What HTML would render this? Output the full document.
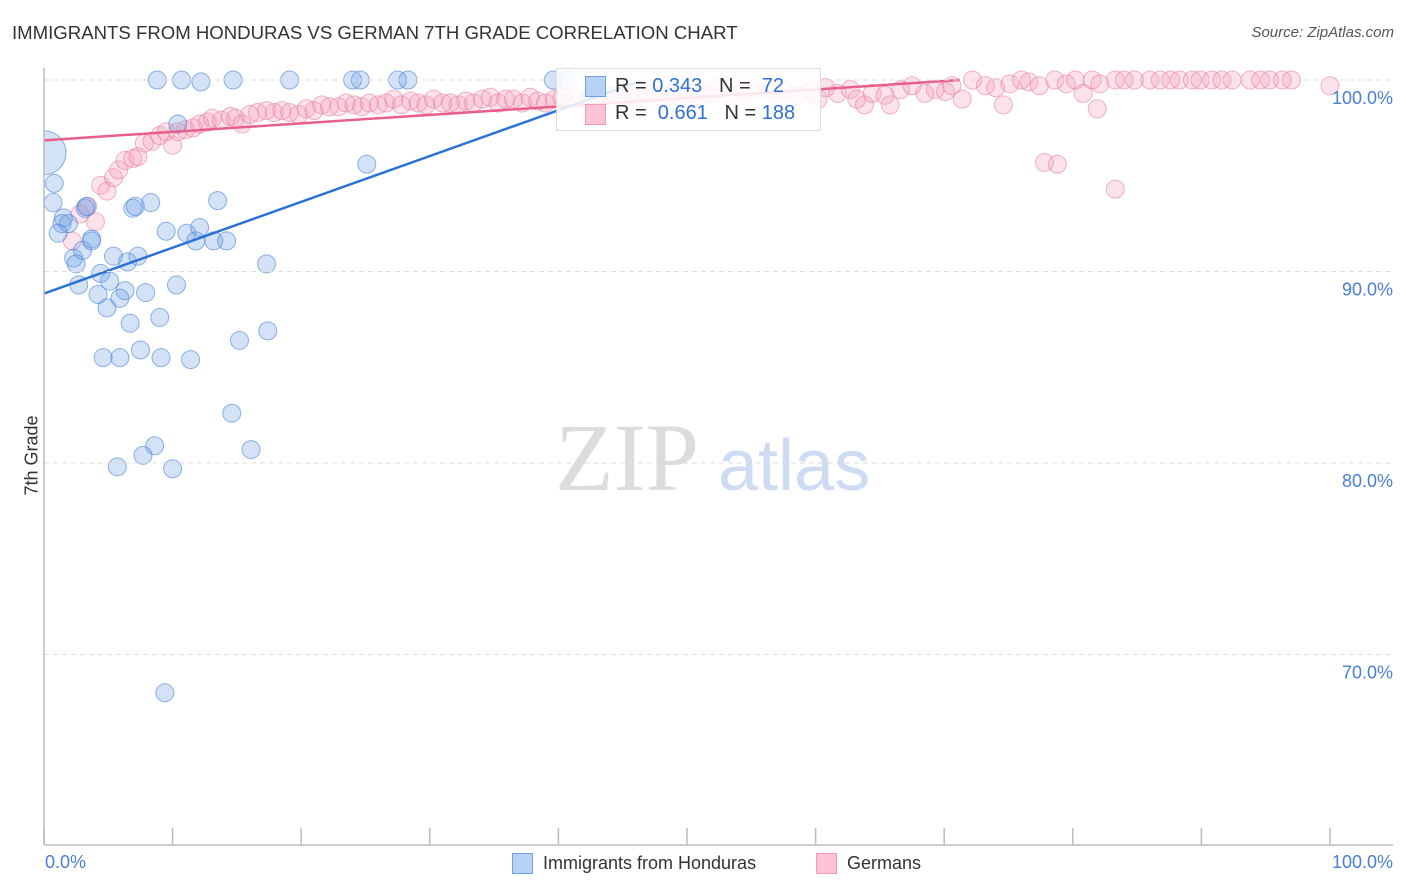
<!DOCTYPE html>
<html><head><meta charset="utf-8"><style>
body{margin:0;background:#fff;font-family:"Liberation Sans",sans-serif;}
#wrap{position:relative;width:1406px;height:892px;overflow:hidden;}
.t{position:absolute;white-space:nowrap;}
</style></head><body>
<div id="wrap">
<div class="t" style="left:12px;top:22px;font-size:18.6px;color:#333;">IMMIGRANTS FROM HONDURAS VS GERMAN 7TH GRADE CORRELATION CHART</div>
<div class="t" style="right:12px;top:24px;font-size:15px;color:#555;font-style:italic;">Source: ZipAtlas.com</div>
<svg id="plot" width="1406" height="892" style="position:absolute;left:0;top:0"><defs><clipPath id="pc"><rect x="44" y="0" width="1362" height="845"/></clipPath></defs><g id="marks" clip-path="url(#pc)"></g></svg>
</div>
<script>
const yTicks=[100,90,80,70];
const yTickLabels=["100.0%","90.0%","80.0%","70.0%"];
const blueX=[8.8,10.7,12.2,14.7,19.1,24,24.6,27.5,28.3,39.6,40.7,10.4,0,0.8,0.7,1.5,1.4,1.9,1.1,3.2,3.3,3.7,2.3,2.5,3.0,3.7,5.4,6.5,7.3,4.4,5.1,2.7,4.2,4.9,6.3,5.9,7.9,10.3,6.9,7.1,8.3,9.5,11.1,12.1,11.8,13.2,14.2,13.5,17.3,25.1,9.0,6.7,15.2,17.4,4.6,5.9,7.5,9.1,11.4,14.6,16.1,8.6,7.7,5.7,10.0,9.4];
const blueY=[100,100,99.9,100,100,100,100,100,100,100,100,97.7,96.2,94.6,93.6,92.8,92.5,92.5,92.0,93.3,93.4,91.7,90.7,90.4,91.1,91.6,90.8,90.5,90.8,89.9,89.5,89.3,88.8,88.1,89.0,88.6,88.9,89.3,93.3,93.4,93.6,92.1,92.0,92.3,91.6,91.6,91.6,93.7,90.4,95.6,87.6,87.3,86.4,86.9,85.5,85.5,85.9,85.5,85.4,82.6,80.7,80.9,80.4,79.8,79.7,68.0];
const pinkX=[3.4,4.0,2.2,2.8,4.4,4.9,5.4,5.8,6.3,6.9,7.3,7.8,8.4,9.0,9.5,10.0,10.4,11.0,11.6,12.1,12.7,13.1,13.8,14.5,14.9,15.4,16.0,16.6,17.3,17.9,18.5,19.1,19.8,20.4,21.0,21.6,22.2,22.9,23.5,24.1,24.7,25.3,26.0,26.6,27.2,27.8,28.5,29.1,29.7,30.3,31.0,31.6,32.2,32.8,33.4,34.1,34.7,35.3,35.9,36.5,37.2,37.8,38.4,39.0,39.7,40.3,41.3,42.5,43.2,44.0,44.8,45.6,46.3,47.3,47.9,48.7,49.5,50.2,51.0,51.9,52.6,53.3,54.4,55.4,56.5,57.4,58.6,59.6,60.2,60.8,61.7,62.7,63.2,63.8,64.4,65.4,65.8,66.6,67.5,68.5,69.3,70.1,70.6,71.4,72.2,73.2,74.0,74.6,75.1,76.0,76.6,77.4,78.6,79.5,80.2,80.8,81.5,82.1,81.9,83.3,84.0,84.8,86.0,86.8,87.6,88.3,89.3,89.9,90.8,91.6,92.4,93.8,94.6,95.3,96.3,97.0,100,77.8,78.8,83.3];
const pinkY=[93.4,92.6,91.6,93.0,94.5,94.2,94.9,95.3,95.8,95.9,96.0,96.7,96.8,97.1,97.3,96.6,97.3,97.4,97.5,97.7,97.8,98.0,97.9,98.1,98.0,97.7,98.2,98.3,98.4,98.3,98.4,98.3,98.2,98.5,98.4,98.7,98.6,98.6,98.8,98.7,98.6,98.8,98.7,98.8,99.0,98.7,98.9,98.8,98.7,99.0,98.8,98.8,98.7,98.9,98.8,99.0,99.1,98.8,99.0,99.0,98.8,99.1,98.9,98.8,99.0,99.1,99.0,99.1,98.7,99.2,99.0,99.2,99.0,99.3,99.0,99.2,99.1,99.3,99.1,99.3,99.6,99.2,99.4,99.5,99.4,99.5,99.2,99.4,99.0,99.6,99.3,99.5,99.0,98.7,99.3,99.2,98.7,99.5,99.7,99.3,99.5,99.4,99.7,99.0,100,99.7,99.6,98.7,99.8,100,99.9,99.7,100,99.8,100,99.3,100,99.8,98.5,100,100,100,100,100,100,100,100,100,100,100,100,100,100,100,100,100,99.7,95.7,95.6,94.3];
const blueLineX=[0,46.6], blueLineY=[88.85,100];
const pinkLineX=[0,71.2], pinkLineY=[96.85,100];

const svg=document.getElementById('plot');
const marks=document.getElementById('marks');
const NS='http://www.w3.org/2000/svg';
const X0=44,X1=1330,Y100=80,PX10=19.15;
const sx=v=>X0+(X1-X0)*v/100;
const sy=v=>Y100+(100-v)*PX10;
function mk(tag,attrs,parent){const e=document.createElementNS(NS,tag);for(const k in attrs)e.setAttribute(k,attrs[k]);(parent||svg).appendChild(e);return e;}

yTicks.forEach((t,i)=>{
  const g=mk('line',{x1:44,x2:1393,y1:sy(t),y2:sy(t),stroke:'#ddd','stroke-dasharray':'5,4','stroke-width':1});
  
  
  const l=mk('text',{x:1393,y:sy(t)+24,'text-anchor':'end','font-size':18,fill:'#4a7fd6','font-family':'Liberation Sans, sans-serif'});
  l.textContent=yTickLabels[i];
  
  
});
let ax=mk('line',{x1:44,x2:44,y1:68,y2:845,stroke:'#bbb','stroke-width':1.5});


ax=mk('line',{x1:44,x2:1393,y1:845,y2:845,stroke:'#bbb','stroke-width':1.5});


for(let i=0;i<=10;i++){
  const tk=mk('line',{x1:sx(i*10),x2:sx(i*10),y1:828,y2:845,stroke:'#bbb','stroke-width':1.5});
  
  
}
let wm=mk('text',{x:555,y:490,'font-size':96,fill:'#dcdcdc','font-family':'Liberation Serif, serif'});wm.textContent='ZIP';


wm=mk('text',{x:718,y:490,'font-size':72,fill:'#cddcf2','font-family':'Liberation Sans, sans-serif'});wm.textContent='atlas';



pinkX.forEach((x,i)=>{
  const c=mk('circle',{cx:sx(x),cy:sy(pinkY[i]),r:9,fill:'rgba(244,150,180,0.28)',stroke:'rgba(232,120,155,0.55)','stroke-width':1},marks);
  
  
});
blueX.forEach((x,i)=>{
  const big=(i===12);
  const c=mk('circle',{cx:sx(x),cy:sy(blueY[i]),r:big?22:9,fill:'rgba(110,160,230,0.3)',stroke:'rgba(70,130,215,0.6)','stroke-width':1},marks);
  
  
});
let ln=mk('line',{x1:sx(pinkLineX[0]),y1:sy(pinkLineY[0]),x2:sx(pinkLineX[1]),y2:sy(pinkLineY[1]),stroke:'#e8608a','stroke-width':2.5},marks);


ln=mk('line',{x1:sx(blueLineX[0]),y1:sy(blueLineY[0]),x2:sx(blueLineX[1]),y2:sy(blueLineY[1]),stroke:'#2a72d6','stroke-width':2.5},marks);


</script>
<div class="t" style="left:-8px;top:445px;font-size:18px;color:#333;transform:rotate(-90deg);">7th Grade</div>
<div style="position:absolute;left:556px;top:68px;width:263px;height:61px;background:rgba(255,255,255,0.85);border:1px solid #ddd;font-size:20px;color:#333;">
 <div style="position:absolute;left:28px;top:7px;width:19px;height:19px;background:#b7d2f5;border:1px solid #6ea0e6;"></div>
 <div class="t" style="left:58px;top:6px;">R = <span style="color:#2f6fd6">0.343</span>&nbsp;&nbsp;&nbsp;N = &nbsp;<span style="color:#2f6fd6">72</span></div>
 <div style="position:absolute;left:28px;top:35px;width:19px;height:19px;background:#fbc3d3;border:1px solid #f29ab4;"></div>
 <div class="t" style="left:58px;top:33px;">R = &nbsp;<span style="color:#2f6fd6">0.661</span>&nbsp;&nbsp;&nbsp;N = <span style="color:#2f6fd6">188</span></div>
</div>
<div class="t" style="left:45px;top:852px;font-size:18px;color:#4a7fd6;">0.0%</div>
<div class="t" style="right:13px;top:852px;font-size:18px;color:#4a7fd6;">100.0%</div>
<div style="position:absolute;left:512px;top:853px;width:19px;height:19px;background:#b7d2f5;border:1px solid #6ea0e6;"></div>
<div class="t" style="left:543px;top:853px;font-size:18px;color:#333;">Immigrants from Honduras</div>
<div style="position:absolute;left:816px;top:853px;width:19px;height:19px;background:#fbc3d3;border:1px solid #f29ab4;"></div>
<div class="t" style="left:847px;top:853px;font-size:18px;color:#333;">Germans</div>
</body></html>
